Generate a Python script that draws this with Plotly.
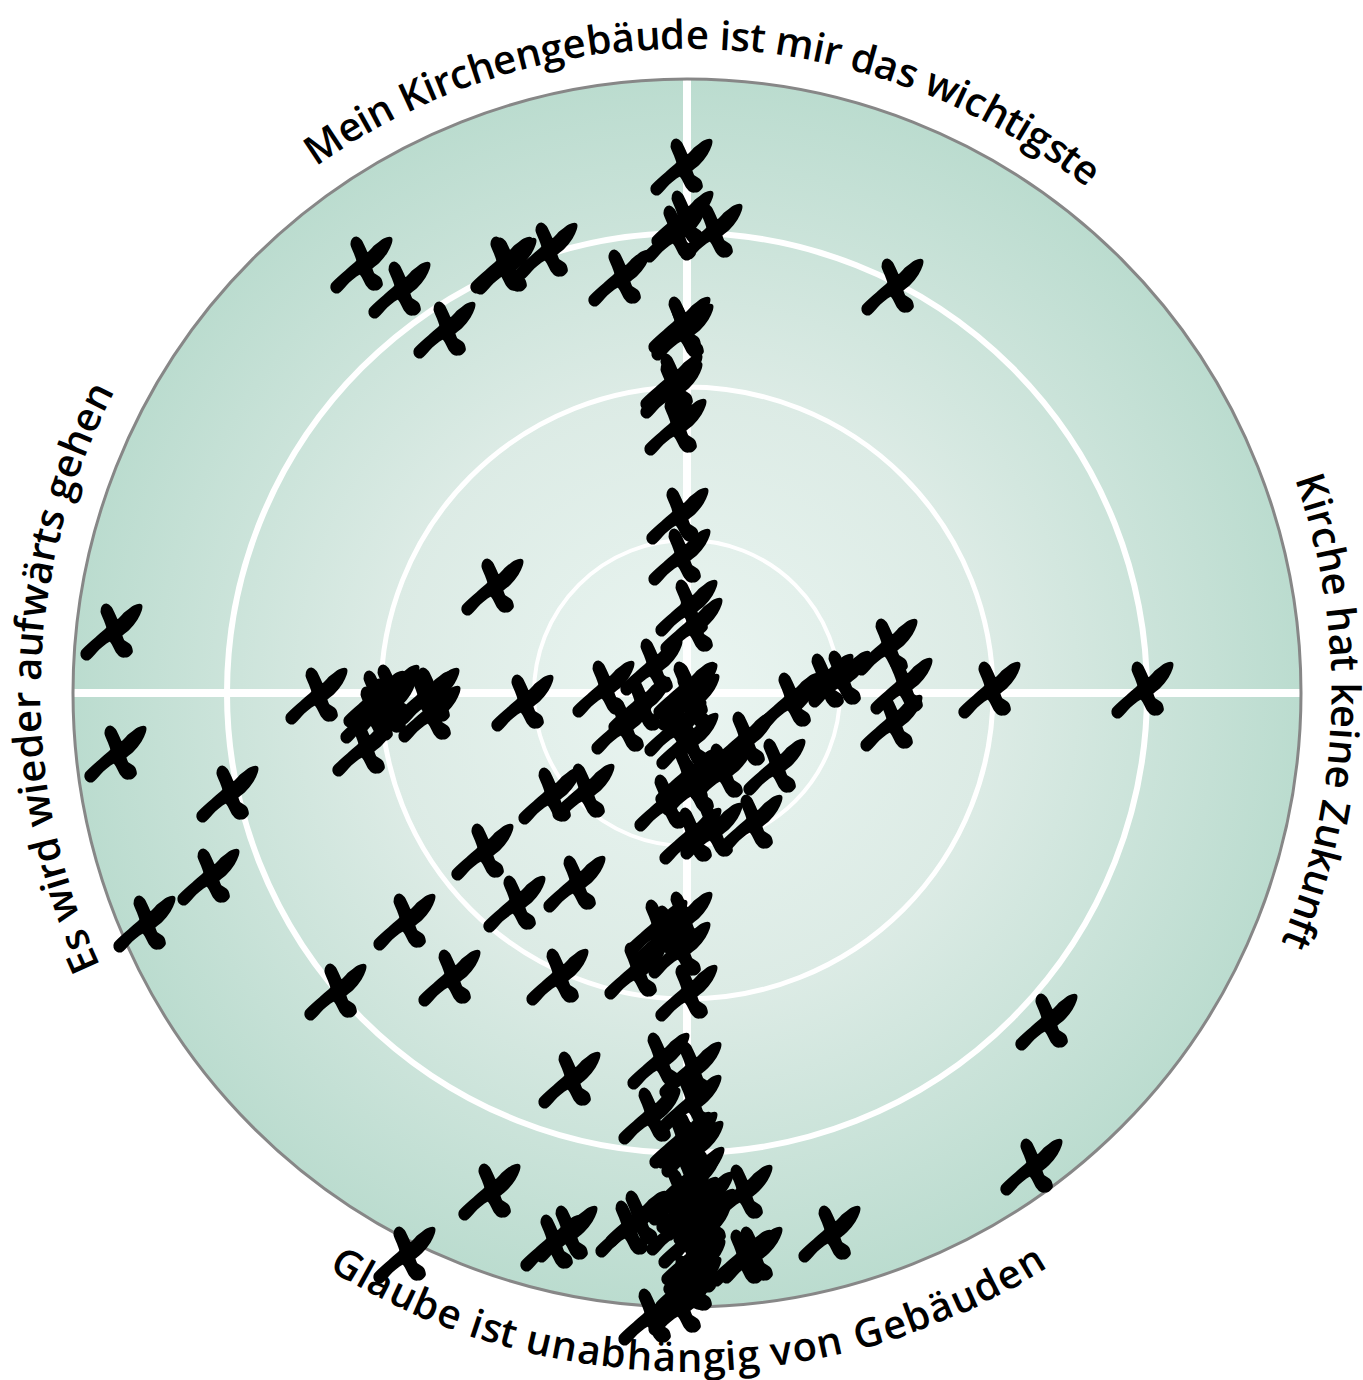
import base64
import math
import plotly.graph_objects as go

# Reading positions, centre of the disc = (0, 0), outer ring = 614
x_values = [
    -5, -4, 25, -12, -67, -7, -4, -15, -15, -11, -325, -287, -242, -185, -181, -140, 206,
    -9, -7, 0, 5, -35, -83, -64, -47, 0, 2, -2, -11, 1, 0, -21, 4, 25, 65, 88, 57, 103, 136, 153,
    35, 6,
    -370, -312, -298, -315, -302, -323, -258, -264, -257, -164, -194, -575, -571, -459, -478, -542,
    -204, -137, -103, -172, -112, -282, -237, -351, -129,
    -5, -30, -19, -7, -51, 0, -28, 4, 4, -37, 0, -6, 6, 7, 3, 16, 1, -9, 3, 6, 0, 4, -7, -37,
    18, -7, 8, 13, 8, 55, 65, 55, 143, -50, -60, -120, -135, -117, -197, -282,
    360, 345, 303, 456, 200, 215, 205,
]
y_values = [
    528, 476, 463, 461, 417, 370, 363, 313, 305, 268, 430, 405, 365, 430, 429, 444, 408,
    179, 138, 87, 69, 28, 6, -31, -10, 4, -7, 5, -33, -46, -82, -108, -141, -136, -128, -72, -45, -6, 13, 16,
    -77, -92,
    -1, -4, 2, -20, -12, -53, -1, -4, -19, -8, 108, 63, -59, -99, -182, -229,
    -157, -101, -97, -209, -189, -227, -283, -297, -282,
    -225, -233, -239, -255, -276, -298, -366, -375, -408, -421, -445, -445, -454, -480, -487, -505, -510, -532, -545, -562, -589, -590, -612, -622,
    -522, -502, -517, -537, -572, -498, -560, -563, -539, -524, -534, -539, -548, -385, -497, -560,
    -327, -472, 5, 5, 48, 9, -28,
]
ring_values = [153, 306, 460]
ring_widths = [4, 5, 6]
outer_radius = 614
label_top = "Mein Kirchengebäude ist mir das wichtigste"
label_right = "Kirche hat keine Zukunft"
label_bottom = "Glaube ist unabhängig von Gebäuden"
label_left = "Es wird wieder aufwärts gehen"

# outline of the hand-drawn cross, relative to its crossing point (screen px, y down)
GLYPH = [(16,166),(60,125),(92,95),(87,75),(75,45),(78,32),(85,28),(95,36),(106,58),(117,78),
         (145,52),(170,33),(186,29),(184,40),(172,65),(148,95),(126,115),(133,135),(153,150),
         (157,165),(148,174),(132,175),(120,163),(107,138),(96,128),(60,152),(29,184),(20,182),(15,175)]
GLYPH = [((a - 102) / 3, -(b - 100) / 3) for a, b in GLYPH]

gx, gy = [], []
for px, py in zip(x_values, y_values):
    for a, b in GLYPH:
        gx.append(px + a)
        gy.append(py + b)
    gx.append(px + GLYPH[0][0])
    gy.append(py + GLYPH[0][1])
    gx.append(None)
    gy.append(None)

svg = ('<svg xmlns="http://www.w3.org/2000/svg" width="1228" height="1228">'
       '<defs><radialGradient id="g"><stop offset="0" stop-color="#eaf5f1"/>'
       '<stop offset="0.5" stop-color="#dcebe5"/>'
       '<stop offset="1" stop-color="#bbdccf"/></radialGradient></defs>'
       '<circle cx="614" cy="614" r="614" fill="url(#g)"/></svg>')
bg = "data:image/svg+xml;base64," + base64.b64encode(svg.encode()).decode()

WIDTHS = dict(zip("abcdefghijklmnopqrstuvwxyz",
                  [1139,1255,975,1255,1149,694,1122,1257,518,518,1065,518,1905,1257,1237,1255,1255,836,977,723,1257,1020,1593,1073,1024,958]))
WIDTHS.update({" ": 532, "ä": 1139, "ü": 1257, "E": 1147, "G": 1491, "K": 1268, "M": 1849, "Z": 1147})
FONT = dict(family="Open Sans", size=40, color="#000000", weight=600)
annotations = []


def curved(text, start, end, radius, inverted=False):
    total = sum(WIDTHS[c] for c in text)
    pos = 0
    for c in text:
        w = WIDTHS[c]
        ang = start + (end - start) * (pos + w / 2) / total
        pos += w
        if c == " ":
            continue
        rad = math.radians(ang)
        if inverted:
            ax, ay, rot = radius * math.sin(rad), -radius * math.cos(rad), -ang
        else:
            ax, ay, rot = radius * math.sin(rad), radius * math.cos(rad), ang
        annotations.append(dict(x=ax, y=ay, xref="x", yref="y", text=c, showarrow=False,
                                xanchor="center", yanchor="middle", textangle=rot, font=FONT))


curved(label_top, -35.2, 38.4, 660)
curved(label_right, 70.6, 112.8, 660)
curved(label_left, -115.0, -62.2, 662)
curved(label_bottom, -32.0, 32.2, 663, inverted=True)

shapes = []
shapes.append(dict(type="line", xref="x", yref="y", x0=-outer_radius, x1=outer_radius, y0=0, y1=0,
                   line=dict(color="white", width=8), layer="below"))
shapes.append(dict(type="line", xref="x", yref="y", x0=0, x1=0, y0=-outer_radius, y1=outer_radius,
                   line=dict(color="white", width=8), layer="below"))
for r, w in zip(ring_values, ring_widths):
    shapes.append(dict(type="circle", xref="x", yref="y", x0=-r, x1=r, y0=-r, y1=r,
                       line=dict(color="white", width=w), layer="below"))
shapes.append(dict(type="circle", xref="x", yref="y", x0=-outer_radius, x1=outer_radius,
                   y0=-outer_radius, y1=outer_radius, line=dict(color="#878787", width=3), layer="below"))

fig = go.Figure()
fig.add_trace(go.Scatter(x=gx, y=gy, mode="lines", fill="toself", fillcolor="#000000",
                         line=dict(color="#000000", width=5, shape="spline", smoothing=0.6),
                         hoverinfo="skip", showlegend=False))
fig.add_trace(go.Scatter(x=x_values, y=y_values, mode="markers",
                         marker=dict(color="#000000", size=8), showlegend=False))

fig.update_layout(
    width=1363, height=1380, autosize=False, margin=dict(l=0, r=0, t=0, b=0, pad=0),
    paper_bgcolor="white", plot_bgcolor="rgba(0,0,0,0)", showlegend=False,
    xaxis=dict(range=[-687, 676], visible=False, fixedrange=True),
    yaxis=dict(range=[-687, 693], visible=False, fixedrange=True),
    shapes=shapes, annotations=annotations,
    images=[dict(source=bg, xref="paper", yref="paper", x=(687 - outer_radius) / 1363,
                 y=1 - (693 - outer_radius) / 1380,
                 sizex=2 * outer_radius / 1363, sizey=2 * outer_radius / 1380, sizing="stretch",
                 xanchor="left", yanchor="top", layer="below")],
)
fig.write_html("out.html", post_script="document.body.style.margin='0';",
               config=dict(displayModeBar=False))
